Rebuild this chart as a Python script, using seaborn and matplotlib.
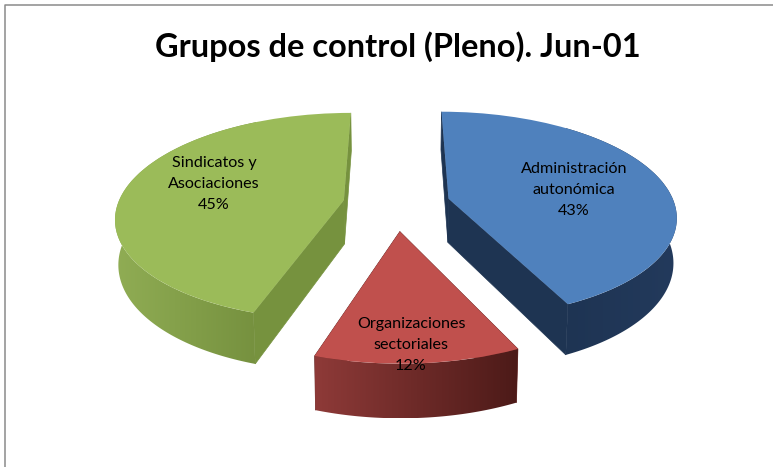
import numpy as np
import seaborn as sns
import matplotlib.pyplot as plt
from matplotlib.colors import LinearSegmentedColormap
from matplotlib.patches import Polygon
from matplotlib.transforms import Transform

names = ["Administración\nautonómica", "Organizaciones\nsectoriales", "Sindicatos y\nAsociaciones"]
shares = [43, 12, 45]
title = "Grupos de control (Pleno). Jun-01"

top_colors = ["#4F81BD", "#C0504D", "#9BBB59"]
wall_colors = [("#1E3453", "#233A5C"), ("#8E3A38", "#4C1A18"), ("#90AD54", "#76913F")]
cut_colors = ["#1E3452", "#6E2A28", "#76923E"]
label_pos = [(574, 190), (411, 345), (214, 184)]

# view of the tilted pie, in pixels of the picture
CX, CY = 396, 204
RX, RY = 226, 102
PERSP = 0.155
DEPTH = 44
SHRINK = 0.988


def project(x, y, lift=False):
    w = 1 / (1 + PERSP * np.asarray(y))
    sx = CX + RX * np.asarray(x) * w
    sy = CY - RY * np.asarray(y) * w
    if lift:
        sx = CX + (sx - CX) * SHRINK
        sy = sy + DEPTH * w
    return sx, sy


class TiltTransform(Transform):
    input_dims = 2
    output_dims = 2
    is_separable = False

    def transform_non_affine(self, values):
        values = np.asarray(values)
        sx, sy = project(values[:, 0], values[:, 1])
        return np.column_stack([sx, sy])


sns.set_theme(style="white")
plt.rcParams['font.family'] = ['Lato', 'DejaVu Sans']

fig = plt.figure(figsize=(7.73, 4.67), dpi=100)
ax = fig.add_axes([0, 0, 1, 1])
palette = sns.color_palette(top_colors)

wedges, _ = ax.pie(shares, explode=[0.24, 0.26, 0.235], startangle=90, counterclock=False,
                   colors=palette, wedgeprops={'linewidth': 0, 'zorder': 5})

tilt = TiltTransform()
for i, wedge in enumerate(wedges):
    wedge.set_transform(tilt + ax.transData)

    cx, cy = wedge.center
    theta = np.radians(np.linspace(wedge.theta1, wedge.theta2, 200))
    arc_x = cx + wedge.r * np.cos(theta)
    arc_y = cy + wedge.r * np.sin(theta)

    # flat cut faces go under the curved wall, the red ones face away
    for end in (0, -1):
        xs = [cx, arc_x[end]]
        ys = [cy, arc_y[end]]
        fx, fy = project(xs, ys)
        gx, gy = project(xs, ys, lift=True)
        ax.fill(np.r_[fx, gx[::-1]], np.r_[fy, gy[::-1]], color=cut_colors[i], lw=0.5, zorder=1)

    tx, ty = project(arc_x, arc_y)
    bx, by = project(arc_x, arc_y, lift=True)
    outline = np.column_stack([np.r_[tx, bx[::-1]], np.r_[ty, by[::-1]]])
    wall = Polygon(outline, closed=True, fc="none", ec="none", transform=ax.transData)
    ax.add_patch(wall)

    front = arc_y < cy + 0.2
    left = min(tx[front].min(), bx[front].min())
    right = max(tx[front].max(), bx[front].max())
    cmap = LinearSegmentedColormap.from_list("wall", wall_colors[i])
    im = ax.imshow(np.linspace(0, 1, 256).reshape(1, -1), cmap=cmap, aspect='auto', zorder=2,
                   extent=(left, right, by.max(), ty.min()))
    im.set_clip_path(wall)

ax.set_aspect('auto')
ax.set_xlim(0, 773)
ax.set_ylim(467, 0)
ax.set_axis_off()

for name, share, (px, py) in zip(names, shares, label_pos):
    ax.text(px, py, f"{name}\n{share}%", ha='center', va='center', fontsize=11.6,
            color="black", linespacing=1.6, zorder=6)

ax.text(397.5, 47, title, ha='center', va='center', fontsize=23.4, fontweight='bold', color="black")

# chart frame, only its top and left edges fall inside the crop
ax.plot([4.5, 4.5, 773], [467, 4.5, 4.5], color="#8A8A8A", lw=1.1, clip_on=False)

fig.savefig("out.png", dpi=100)
